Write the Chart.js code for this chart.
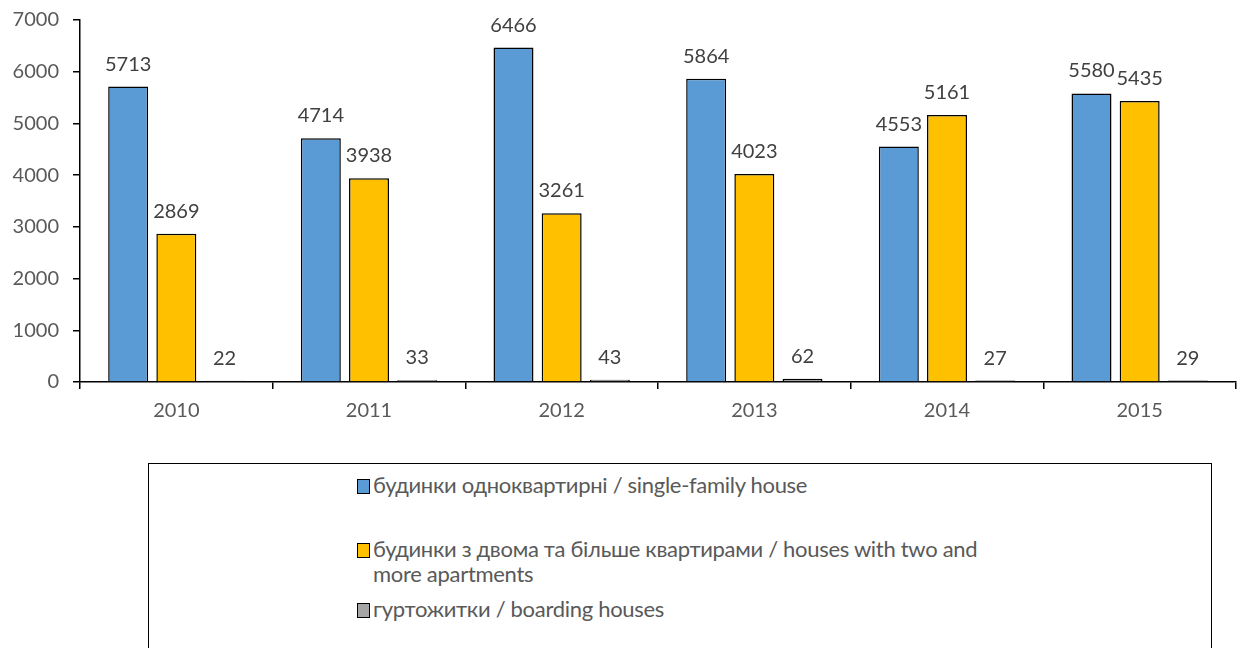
<!DOCTYPE html>
<html>
<head>
<meta charset="utf-8">
<script src="https://cdn.jsdelivr.net/npm/chart.js@4"></script>
<style>
  body { margin: 0; background: #fff; width: 1239px; height: 648px; overflow: hidden; position: relative; font-family: Lato, "Liberation Sans", sans-serif; }
  #wrap { position: absolute; left: 0; top: 0; width: 1239px; height: 440px; }
  #legend { position: absolute; left: 148px; top: 463px; width: 1064px; height: 200px; border: 1.5px solid #000; box-sizing: border-box; }
  .item { position: absolute; left: 208px; font-size: 22px; color: #595959; line-height: 25px; letter-spacing: -0.3px; white-space: nowrap; }
  .item i { display: inline-block; width: 13px; height: 15px; border: 1.5px solid #000; margin-right: 3px; vertical-align: -1px; box-sizing: border-box; }
</style>
</head>
<body>
<div id="wrap"><canvas id="chart"></canvas></div>
<div id="legend">
  <div class="item" style="top:8px"><i style="background:#5B9BD5"></i>будинки одноквартирні / single-family house</div>
  <div class="item" style="top:72px"><i style="background:#FFC000"></i>будинки з двома та більше квартирами / houses with two and<br><span style="padding-left:16px">more apartments</span></div>
  <div class="item" style="top:132px"><i style="background:#A5A5A5"></i>гуртожитки / boarding houses</div>
</div>
<script>
const years = ['2010', '2011', '2012', '2013', '2014', '2015'];
const singleFamily = [5713, 4714, 6466, 5864, 4553, 5580];
const multiFlat = [2869, 3938, 3261, 4023, 5161, 5435];
const boarding = [22, 33, 43, 62, 27, 29];

const FONT = 'Lato, "Liberation Sans", sans-serif';

// values above each bar
const valueLabels = {
  id: 'valueLabels',
  afterDatasetsDraw(chart) {
    const ctx = chart.ctx;
    ctx.save();
    ctx.font = '20px ' + FONT;
    ctx.fillStyle = '#404040';
    ctx.textAlign = 'center';
    ctx.textBaseline = 'alphabetic';
    chart.data.datasets.forEach((ds, i) => {
      chart.getDatasetMeta(i).data.forEach((bar, j) => {
        ctx.fillText(ds.data[j], bar.x, bar.y - 16);
      });
    });
    ctx.restore();
  }
};

new Chart(document.getElementById('chart'), {
  type: 'bar',
  data: {
    labels: years,
    datasets: [
      { label: 'будинки одноквартирні / single-family house', data: singleFamily, backgroundColor: '#5B9BD5', borderColor: '#000', borderWidth: 1.5 },
      { label: 'будинки з двома та більше квартирами / houses with two and more apartments', data: multiFlat, backgroundColor: '#FFC000', borderColor: '#000', borderWidth: 1.5 },
      { label: 'гуртожитки / boarding houses', data: boarding, backgroundColor: '#A5A5A5', borderColor: '#000', borderWidth: 1.5 }
    ]
  },
  options: {
    responsive: true,
    maintainAspectRatio: false,
    animation: false,
    categoryPercentage: 0.75,
    barPercentage: 0.83,
    layout: { padding: { top: 20, right: 3, left: 0, bottom: 0 } },
    plugins: { legend: { display: false }, tooltip: { enabled: false } },
    scales: {
      x: {
        offset: true,
        grid: { display: true, drawOnChartArea: false, offset: true, color: '#000', tickLength: 7, lineWidth: 1.5 },
        border: { color: '#000', width: 1.5 },
        ticks: { color: '#595959', font: { size: 20, family: FONT }, padding: 10 },
        afterFit(axis) { axis.height = 58; }
      },
      y: {
        min: 0,
        max: 7000,
        ticks: { stepSize: 1000, color: '#595959', font: { size: 20, family: FONT }, padding: 14, callback: v => String(v) },
        grid: { display: true, drawOnChartArea: false, color: '#000', tickLength: 7, lineWidth: 1.5 },
        border: { color: '#000', width: 1.5 },
        afterFit(axis) { axis.width = 80; axis.paddingTop = 0; axis.paddingBottom = 0; }
      }
    }
  },
  plugins: [valueLabels]
});
</script>
</body>
</html>
